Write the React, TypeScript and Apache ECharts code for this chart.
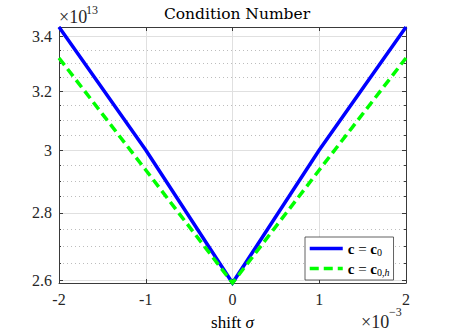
import React, { useEffect, useRef } from 'react';
import * as echarts from 'echarts';

// shift sigma (×10^-3)
const xValues = [-2, -1, 0, 1, 2];
// condition number (×10^13)
const blueValues = [3.435, 3.0, 2.592, 3.0, 3.435];
const greenValues = [3.32, 2.935, 2.592, 2.935, 3.32];
const xTicks = [-2, -1, 0, 1, 2];
const xTickLabels = ['-2', '-1', '0', '1', '2'];
const yTicks = [2.6, 2.8, 3.0, 3.2, 3.4];
const yTickLabels = ['2.6', '2.8', '3', '3.2', '3.4'];
const yMinorTicks = [2.65, 2.7, 2.75, 2.85, 2.9, 2.95, 3.05, 3.1, 3.15, 3.25, 3.3, 3.35];
const seriesNames = ['c = c0', 'c = c0,h'];

const FONT = "'Liberation Serif', serif";
const AXIS_COLOR = '#3a3a3a';
const TEXT_COLOR = '#262626';

export default function App() {
  const ref = useRef<HTMLDivElement>(null);
  useEffect(() => {
    if (!ref.current) return;
    const chart = echarts.init(ref.current, undefined, { renderer: 'svg' });
    const lg = (v: number) => Math.log10(v);
    const all = blueValues.concat(greenValues);
    const yMin = lg(Math.min(...all));
    const yMax = lg(Math.max(...all));
    const majorLog = yTicks.map(lg);
    const minorLog = yMinorTicks.map(lg);
    const yLabel = (v: number) => {
      let best = 0;
      majorLog.forEach((m, i) => {
        if (Math.abs(m - v) < Math.abs(majorLog[best] - v)) best = i;
      });
      return yTickLabels[best];
    };
    const xLabel = (v: number) => {
      const i = xTicks.indexOf(Math.round(v));
      return i >= 0 ? xTickLabels[i] : '';
    };
    const baseY = {
      type: 'value' as const,
      min: yMin,
      max: yMax,
      scale: true,
    };
    const axisLine = { show: true, onZero: false, lineStyle: { color: AXIS_COLOR, width: 1 } };
    const noLine = { show: false, onZero: false };
    const txt = (text: string, x: number, y: number, size: number) => ({
      type: 'text',
      x,
      y,
      style: {
        text,
        font: `${size}px "Liberation Serif", serif`,
        fill: TEXT_COLOR,
        textVerticalAlign: 'top',
        verticalAlign: 'top',
      },
    });
    const option: any = {
      animation: false,
      backgroundColor: '#ffffff',
      title: {
        text: 'Condition Number',
        left: 232,
        top: 1,
        textAlign: 'center',
        textStyle: { fontFamily: 'DejaVu Serif', fontSize: 15.5, fontWeight: 'normal', color: '#000' },
      },
      grid: { left: 59, right: 43, top: 27, bottom: 50, containLabel: false },
      xAxis: [
        {
          type: 'value',
          min: -2,
          max: 2,
          interval: 1,
          position: 'bottom',
          name: 'shift {i|σ}',
          nameLocation: 'middle',
          nameGap: 31,
          nameTextStyle: {
            fontFamily: FONT, fontSize: 17, color: '#000',
            rich: { i: { fontFamily: FONT, fontSize: 17, fontStyle: 'italic', color: '#000' } },
          },
          axisLine,
          axisTick: { show: true, inside: true, length: 4, lineStyle: { color: AXIS_COLOR } },
          axisLabel: { fontFamily: FONT, fontSize: 16, color: TEXT_COLOR, margin: 8, formatter: xLabel },
          splitLine: { show: true, lineStyle: { color: '#e0e0e0', width: 1 } },
        },
        {
          type: 'value',
          min: -2,
          max: 2,
          interval: 1,
          position: 'top',
          axisLine,
          axisTick: { show: true, inside: true, length: 4, lineStyle: { color: AXIS_COLOR } },
          axisLabel: { show: false },
          splitLine: { show: false },
        },
      ],
      yAxis: [
        {
          ...baseY,
          position: 'left',
          axisLine,
          axisTick: { show: true, inside: true, length: 4, lineStyle: { color: AXIS_COLOR }, customValues: majorLog },
          axisLabel: {
            fontFamily: FONT, fontSize: 16, color: TEXT_COLOR, margin: 7,
            customValues: majorLog, formatter: yLabel,
          },
          splitLine: { show: true, lineStyle: { color: '#e0e0e0', width: 1 } },
        },
        {
          ...baseY,
          position: 'left',
          axisLine: noLine,
          axisTick: { show: true, inside: true, length: 2, lineStyle: { color: AXIS_COLOR }, customValues: minorLog },
          axisLabel: { show: false },
          splitLine: { show: true, lineStyle: { color: '#bdbdbd', width: 1, type: [1, 3] } },
        },
        {
          ...baseY,
          position: 'right',
          axisLine,
          axisTick: { show: true, inside: true, length: 4, lineStyle: { color: AXIS_COLOR }, customValues: majorLog },
          axisLabel: { show: false },
          splitLine: { show: false },
        },
        {
          ...baseY,
          position: 'right',
          axisLine: noLine,
          axisTick: { show: true, inside: true, length: 2, lineStyle: { color: AXIS_COLOR }, customValues: minorLog },
          axisLabel: { show: false },
          splitLine: { show: false },
        },
      ],
      legend: {
        orient: 'vertical',
        left: 305,
        top: 237,
        padding: [3, 4, 3, 3],
        itemGap: 3,
        itemWidth: 33,
        itemHeight: 14,
        backgroundColor: '#ffffff',
        borderColor: '#3a3a3a',
        borderWidth: 0.8,
        borderRadius: 0,
        itemStyle: { opacity: 0 },
        lineStyle: { width: 3.5 },
        data: seriesNames,
        formatter: (name: string) =>
          name === seriesNames[0]
            ? '{b|c} = {b|c}{s|0}'
            : '{b|c} = {b|c}{s|0,}{si|h}',
        textStyle: {
          fontFamily: FONT,
          fontSize: 15,
          color: '#000',
          rich: {
            b: { fontFamily: FONT, fontSize: 15, fontWeight: 'bold', color: '#000', lineHeight: 16 },
            s: { fontFamily: FONT, fontSize: 10, color: '#000', lineHeight: 10, padding: [7, 0, 0, 0] },
            si: { fontFamily: FONT, fontSize: 10, fontStyle: 'italic', color: '#000', lineHeight: 10, padding: [7, 0, 0, 0] },
          },
        },
      },
      graphic: [
        txt('×10', 59, 8, 18),
        txt('13', 86, 4, 12),
        txt('×10', 361, 313, 18),
        txt('−3', 389, 306, 12),
      ],
      series: [
        {
          name: seriesNames[0],
          type: 'line',
          xAxisIndex: 0,
          yAxisIndex: 0,
          symbol: 'none',
          data: xValues.map((x, i) => [x, lg(blueValues[i])]),
          lineStyle: { color: '#0000ff', width: 3.5, cap: 'butt', join: 'miter' },
          itemStyle: { color: '#0000ff' },
          clip: false,
        },
        {
          name: seriesNames[1],
          type: 'line',
          xAxisIndex: 0,
          yAxisIndex: 0,
          symbol: 'none',
          data: xValues.map((x, i) => [x, lg(greenValues[i])]),
          lineStyle: { color: '#00ff00', width: 3.5, type: [9, 5], cap: 'butt', join: 'miter' },
          itemStyle: { color: '#00ff00' },
          clip: false,
        },
      ],
    };
    chart.setOption(option);
    return () => chart.dispose();
  }, []);
  return (
    <div
      ref={ref}
      style={{ position: 'fixed', left: 0, top: 0, width: 449, height: 336, background: '#fff' }}
    />
  );
}
